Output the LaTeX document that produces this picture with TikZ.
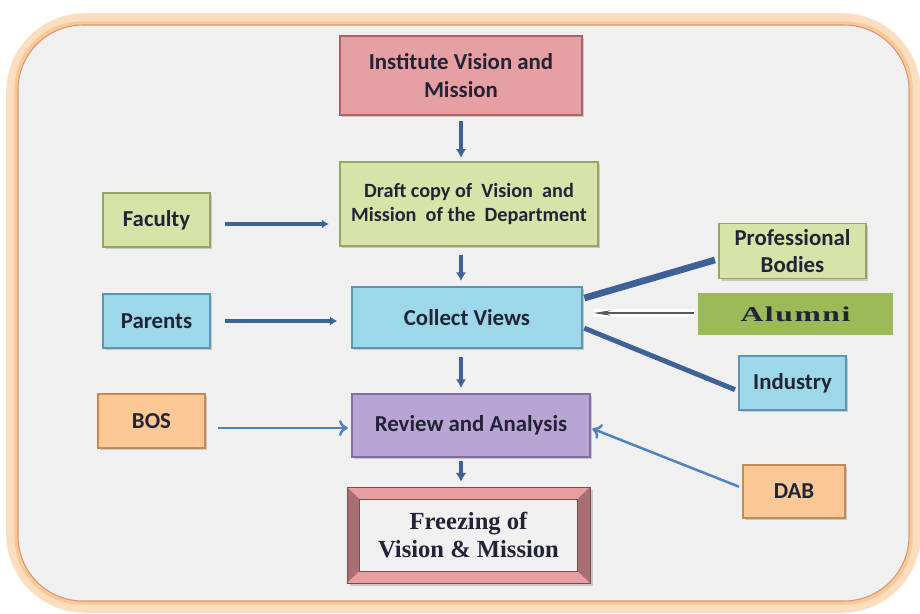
\documentclass[tikz,border=0pt]{standalone}
\usepackage{fontspec}
\setmainfont{Carlito}
\newfontfamily\serifbold{Liberation Serif}
\usetikzlibrary{arrows.meta,shadows,calc}

\definecolor{bgray}{RGB}{240,240,240}
\definecolor{frameorange}{RGB}{249,200,148}
\definecolor{frameedge}{RGB}{215,150,120}
\definecolor{pinkfill}{RGB}{230,160,164}
\definecolor{pinkline}{RGB}{170,100,106}
\definecolor{greenfill}{RGB}{215,228,168}
\definecolor{greenline}{RGB}{150,165,100}
\definecolor{bluefill}{RGB}{157,216,234}
\definecolor{blueline}{RGB}{90,150,175}
\definecolor{orangefill}{RGB}{252,200,150}
\definecolor{orangeline}{RGB}{190,140,90}
\definecolor{purplefill}{RGB}{185,165,212}
\definecolor{purpleline}{RGB}{130,110,165}
\definecolor{alumnifill}{RGB}{155,187,89}
\definecolor{freezelight}{RGB}{232,158,160}
\definecolor{freezedark}{RGB}{168,110,114}
\definecolor{arrowdark}{RGB}{63,98,150}
\definecolor{arrowlight}{RGB}{79,129,189}
\definecolor{textdark}{RGB}{35,35,55}

\tikzset{
  box/.style={draw, line width=0.8pt, minimum width=2.14cm, minimum height=1.08cm,
    align=center, font=\fontsize{13}{16}\selectfont\bfseries, text=textdark,
    drop shadow={shadow xshift=1.2pt, shadow yshift=-1.2pt, opacity=0.35}},
  pinkbox/.style={box, fill=pinkfill, draw=pinkline},
  greenbox/.style={box, fill=greenfill, draw=greenline},
  bluebox/.style={box, fill=bluefill, draw=blueline},
  orangebox/.style={box, fill=orangefill, draw=orangeline},
  purplebox/.style={box, fill=purplefill, draw=purpleline},
  flow/.style={arrowdark, line width=2.2pt, -{Latex[length=5pt,width=6pt]}},
  feed/.style={arrowdark, line width=2.2pt, -{Latex[length=4pt,width=5pt]}},
  thinfeed/.style={arrowlight, line width=1.4pt, -{To[length=5pt,width=9pt]}},
  spoke/.style={arrowdark, line width=3.8pt},
  bevel/.style={draw=freezedark!70!black, line width=0.4pt},
}

\begin{document}
\begin{tikzpicture}[x=0.02cm,y=-0.02cm]
  \useasboundingbox (0,0) rectangle (920,613);
  %%%%% FRAME %%%%%
  \draw[frameorange!60, line width=10pt, rounded corners=1.4cm] (15,22) rectangle (912,604);
  \draw[frameorange, line width=3pt, rounded corners=1.3cm] (17,24) rectangle (910,602);
  \draw[frameedge, fill=bgray, line width=0.6pt, rounded corners=1.3cm] (18,25) rectangle (909,601);

  %%%%% BOXES %%%%%
  \node[pinkbox, minimum width=4.84cm, minimum height=1.58cm] (inst) at (461,75.5) {Institute Vision and\\Mission};
  \node[greenbox, minimum width=5.16cm, minimum height=1.68cm, font=\fontsize{11.5}{14}\selectfont\bfseries] (draft) at (469,204) {Draft copy of\ \ Vision\ \ and\\Mission\ \ of the\ \ Department};
  \node[greenbox] (fac) at (156.5,220) {Faculty};
  \node[bluebox] (par) at (156.5,321) {Parents};
  \node[bluebox, minimum width=4.6cm, minimum height=1.22cm] (col) at (467,317.5) {Collect Views};
  \node[greenbox, minimum width=2.94cm, font=\fontsize{13}{15.3}\selectfont\bfseries] (prof) at (792.5,251) {Professional\\Bodies};
  \node[fill=alumnifill, minimum width=3.9cm, minimum height=0.84cm, text=textdark,
    font=\serifbold\fontsize{12}{14}\selectfont\bfseries] (alu) at (795.5,314) {\scalebox{1.5}[1]{\addfontfeature{LetterSpace=5}Alumni}};
  \node[bluebox] (ind) at (792.5,383) {Industry};
  \node[orangebox] (bos) at (151.5,421) {BOS};
  \node[purplebox, minimum width=4.76cm, minimum height=1.26cm] (rev) at (471,425.5) {Review and Analysis};
  \node[orangebox, minimum width=2.04cm, minimum height=1.06cm] (dab) at (794,491.5) {DAB};

  % freezing box with bevelled frame
  \node[fill=bgray, outer sep=0pt, minimum width=4.86cm, minimum height=1.92cm,
    align=center, text=textdark, font=\serifbold\fontsize{14}{15.5}\selectfont\bfseries,
    drop shadow={shadow xshift=1.5pt, shadow yshift=-1.5pt, opacity=0.35}] (frz) at (468.5,535) {Freezing of\\Vision \& Mission};
  \coordinate (fnw) at ($(frz.north west)+(0.25cm,-0.24cm)$);
  \coordinate (fne) at ($(frz.north east)+(-0.25cm,-0.24cm)$);
  \coordinate (fse) at ($(frz.south east)+(-0.25cm,0.24cm)$);
  \coordinate (fsw) at ($(frz.south west)+(0.25cm,0.24cm)$);
  \fill[freezelight] (frz.north west) -- (frz.north east) -- (fne) -- (fnw) -- cycle;
  \fill[freezelight] (frz.south west) -- (frz.south east) -- (fse) -- (fsw) -- cycle;
  \fill[freezedark] (frz.north west) -- (fnw) -- (fsw) -- (frz.south west) -- cycle;
  \fill[freezedark] (frz.north east) -- (fne) -- (fse) -- (frz.south east) -- cycle;
  \draw[bevel] (frz.north west) rectangle (frz.south east);
  \draw[bevel] (fnw) rectangle (fse);

  %%%%% ARROWS %%%%%
  \draw[flow, shorten <=3pt, shorten >=2pt] (inst.south -| 461,0) -- (461,0 |- draft.north);
  \draw[flow, shorten <=5pt, shorten >=3pt] (draft.south -| 461,0) -- (461,0 |- col.north);
  \draw[flow, shorten <=5pt, shorten >=3pt] (col.south -| 461,0) -- (461,0 |- rev.north);
  \draw[flow, shorten <=2pt, shorten >=3pt] (rev.south -| 461,0) -- (461,0 |- frz.north);

  \draw[feed, shorten <=8pt, shorten >=6pt] ([yshift=-0.08cm]fac.east) -- ([yshift=-0.08cm]fac.east -| draft.west);
  \draw[feed, shorten <=8pt, shorten >=8pt] (par.east) -- (par.east -| col.west);
  \draw[thinfeed, shorten <=7pt, shorten >=2pt] ([yshift=-0.14cm]bos.east) -- ([yshift=-0.14cm]bos.east -| rev.west);
  \draw[thinfeed, shorten <=2pt, shorten >=1pt] ([yshift=0.07cm]dab.west) -- ([yshift=-0.05cm]rev.east);

  \draw[spoke, shorten <=2pt, shorten >=1pt] ([yshift=-0.16cm]prof.west) -- ([yshift=0.38cm]col.east);
  \draw[spoke, line width=2.8pt, shorten <=2pt, shorten >=1pt] ([yshift=-0.16cm]ind.west) -- ([yshift=-0.2cm]col.east);
  \draw[white, line width=5pt, shorten <=2pt, shorten >=6pt] ([yshift=0.02cm]alu.west) -- ([yshift=0.02cm]alu.west -| col.east);
  \draw[gray!70!black, line width=1.2pt, -{Stealth[length=10pt,width=3pt]}, shorten <=2pt, shorten >=6pt] ([yshift=0.02cm]alu.west) -- ([yshift=0.02cm]alu.west -| col.east);
\end{tikzpicture}
\end{document}
